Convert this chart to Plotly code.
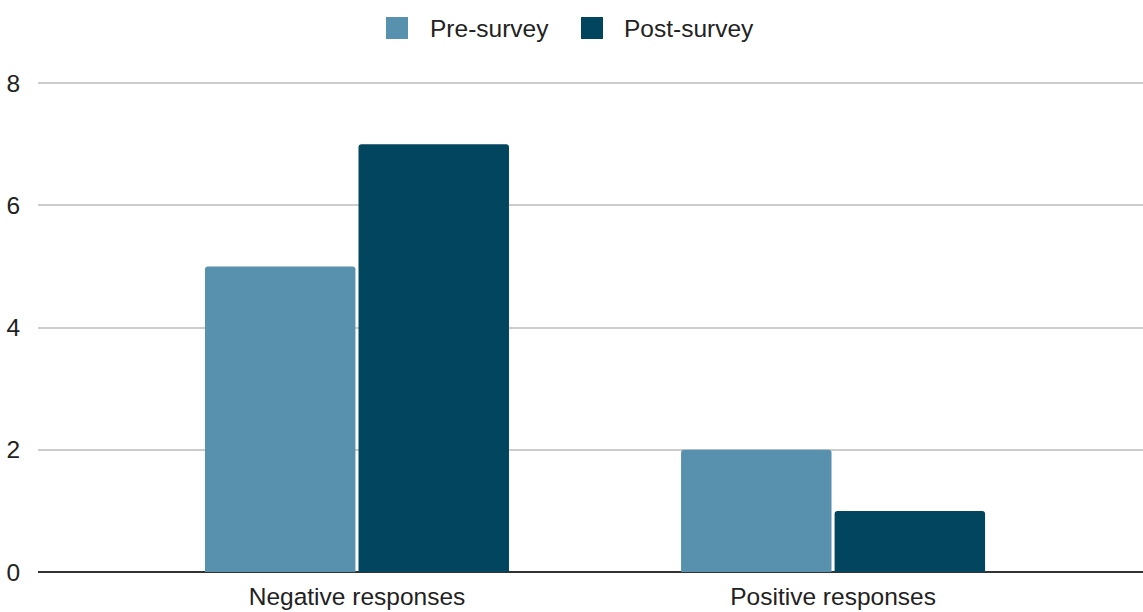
import plotly.graph_objects as go

categories = ["Negative responses", "Positive responses"]
pre_survey = [5, 2]
post_survey = [7, 1]
y_ticks = [0, 2, 4, 6, 8]
series_names = ["Pre-survey", "Post-survey"]

PRE_COLOR = "#5891ae"
POST_COLOR = "#02455f"
FONT = "Liberation Sans, Arial, sans-serif"
TEXT = "#222222"

W, H = 1143, 612
ML, MR, MT, MB = 38, 0, 82, 40
PW, PH = W - ML - MR, H - MT - MB


def px_x(v):
    return (v - ML) / PW


def px_y(v):
    return (H - MB - v) / PH


fig = go.Figure()
fig.add_trace(go.Bar(name=series_names[0], x=categories, y=pre_survey,
                     marker=dict(color=PRE_COLOR, line=dict(width=0)), showlegend=False))
fig.add_trace(go.Bar(name=series_names[1], x=categories, y=post_survey,
                     marker=dict(color=POST_COLOR, line=dict(width=0)), showlegend=False))

# Legend drawn as swatches + text
shapes = []
annotations = []
legend_items = [(series_names[0], PRE_COLOR, 386, 428), (series_names[1], POST_COLOR, 581, 622)]
for name, color, sx, tx in legend_items:
    shapes.append(dict(type="rect", xref="paper", yref="paper",
                       x0=px_x(sx), x1=px_x(sx + 22), y0=px_y(17), y1=px_y(39),
                       fillcolor=color, line=dict(width=0), layer="above"))
    annotations.append(dict(xref="paper", yref="paper", x=px_x(tx), y=px_y(28),
                            xanchor="left", yanchor="middle", showarrow=False,
                            text=name, font=dict(family=FONT, size=24.5, color=TEXT)))

fig.update_layout(
    width=W, height=H,
    margin=dict(l=ML, r=MR, t=MT, b=MB, autoexpand=False),
    paper_bgcolor="white", plot_bgcolor="white",
    font=dict(family=FONT, size=24.5, color=TEXT),
    barmode="group", bargap=0.355, bargroupgap=0.02,
    barcornerradius=3,
    showlegend=False,
    shapes=shapes, annotations=annotations,
    xaxis=dict(range=[-0.670, 1.651], showgrid=False, showline=False, zeroline=False,
               ticks="outside", ticklen=3, tickcolor="rgba(0,0,0,0)",
               tickfont=dict(size=24.5), automargin=False),
    yaxis=dict(range=[0, 8.02], tickvals=y_ticks, showgrid=True, gridcolor="#cccccc",
               gridwidth=1.5, zeroline=True, zerolinecolor="#333333", zerolinewidth=2,
               showline=False, ticks="outside", ticklen=12, tickcolor="rgba(0,0,0,0)",
               tickfont=dict(size=24.5), automargin=False),
)

fig.write_html("out.html")
